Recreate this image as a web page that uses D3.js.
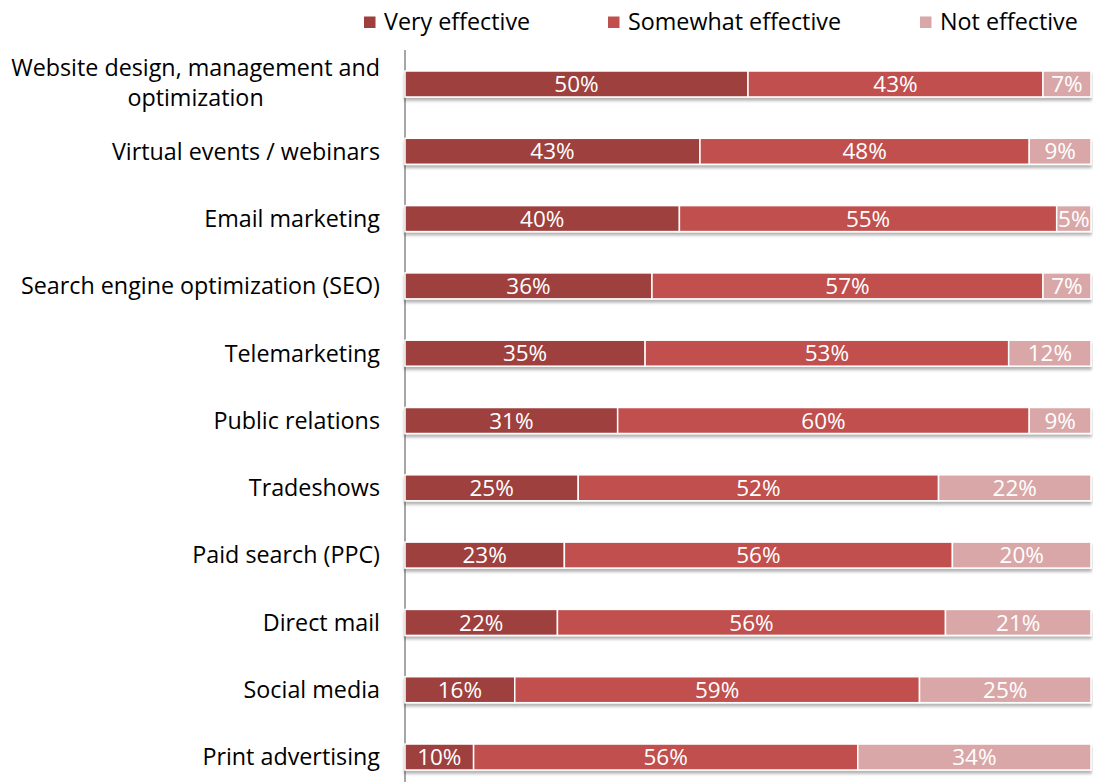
<!DOCTYPE html>
<html>
<head>
<meta charset="utf-8">
<script src="https://cdn.jsdelivr.net/npm/d3@7"></script>
<style>
  body { margin: 0; background: #fff; }
  text { font-family: "Open Sans", Lato, sans-serif; }
</style>
</head>
<body>
<script>
// Chart data
const categories = [
    "Website design, management and optimization",
    "Virtual events / webinars",
    "Email marketing",
    "Search engine optimization (SEO)",
    "Telemarketing",
    "Public relations",
    "Tradeshows",
    "Paid search (PPC)",
    "Direct mail",
    "Social media",
    "Print advertising"
];
const seriesNames = ["Very effective", "Somewhat effective", "Not effective"];
const veryEffective = [50, 43, 40, 36, 35, 31, 25, 23, 22, 16, 10];
const somewhatEffective = [43, 48, 55, 57, 53, 60, 52, 56, 56, 59, 56];
const notEffective = [7, 9, 5, 7, 12, 9, 22, 20, 21, 25, 34];

const colors = ["#9e3f3e", "#c0504d", "#d9a7a7"];

const width = 1093, height = 782;
const x0 = 405, x1 = 1091;
const fontSize = "23.3px";
const valueSize = "22.5px";

const svg = d3.select("body").append("svg")
    .attr("width", width)
    .attr("height", height);

// drop shadow under bars
const defs = svg.append("defs");
const filter = defs.append("filter").attr("id", "shadow")
    .attr("x", "-5%").attr("y", "-20%").attr("width", "110%").attr("height", "160%");
filter.append("feDropShadow")
    .attr("dx", 0).attr("dy", 3).attr("stdDeviation", 1.5)
    .attr("flood-color", "#000").attr("flood-opacity", 0.3);

// build stacked rows (normalised to 100%)
const rows = categories.map((c, i) => {
    const vals = [veryEffective[i], somewhatEffective[i], notEffective[i]];
    const total = d3.sum(vals);
    let acc = 0;
    const segs = vals.map((v, k) => {
        const s = { cat: c, k: k, value: v, start: acc / total, end: (acc + v) / total };
        acc += v;
        return s;
    });
    return { cat: c, segs: segs };
});

const xScale = d3.scaleLinear().domain([0, 1]).range([x0, x1]);
const yScale = d3.scaleBand()
    .domain(categories)
    .range([71, 770])
    .paddingInner(0.614)
    .paddingOuter(0);

// axis line
svg.append("line")
    .attr("x1", x0).attr("x2", x0)
    .attr("y1", 50).attr("y2", height)
    .attr("stroke", "#888").attr("stroke-width", 1.5);

// bars
const rowG = svg.selectAll(".row")
    .data(rows)
    .enter().append("g")
    .attr("class", "row")
    .attr("transform", d => "translate(0," + yScale(d.cat) + ")");

rowG.append("g")
    .attr("filter", "url(#shadow)")
    .selectAll("rect")
    .data(d => d.segs)
    .enter().append("rect")
    .attr("x", d => xScale(d.start))
    .attr("y", 0)
    .attr("width", d => xScale(d.end) - xScale(d.start))
    .attr("height", yScale.bandwidth())
    .attr("fill", d => colors[d.k])
    .attr("stroke", "#fff")
    .attr("stroke-width", 1.5);

rowG.selectAll(".val")
    .data(d => d.segs)
    .enter().append("text")
    .attr("class", "val")
    .attr("x", d => (xScale(d.start) + xScale(d.end)) / 2)
    .attr("y", yScale.bandwidth() / 2)
    .attr("dy", "0.36em")
    .attr("text-anchor", "middle")
    .attr("fill", "#fff")
    .style("font-size", valueSize)
    .text(d => d.value + "%");

// category labels
const labelX = 380;
categories.forEach((c, i) => {
    const cy = yScale(c) + yScale.bandwidth() / 2;
    if (i === 0) {
        const l1 = svg.append("text")
            .attr("x", labelX).attr("y", cy - 16).attr("dy", "0.36em")
            .attr("text-anchor", "end")
            .style("font-size", fontSize).attr("fill", "#000")
            .text("Website design, management and");
        const w = l1.node().getComputedTextLength();
        svg.append("text")
            .attr("x", labelX - w / 2).attr("y", cy + 14).attr("dy", "0.36em")
            .attr("text-anchor", "middle")
            .style("font-size", fontSize).attr("fill", "#000")
            .text("optimization");
    } else {
        svg.append("text")
            .attr("x", labelX).attr("y", cy).attr("dy", "0.36em")
            .attr("text-anchor", "end")
            .style("font-size", fontSize).attr("fill", "#000")
            .text(c);
    }
});

// legend
const legendX = [364, 608, 920];
const legend = svg.selectAll(".legend")
    .data(seriesNames)
    .enter().append("g")
    .attr("class", "legend")
    .attr("transform", (d, i) => "translate(" + legendX[i] + ",22)");

legend.append("rect")
    .attr("x", 0).attr("y", -5.5)
    .attr("width", 11.5).attr("height", 11.5)
    .attr("fill", (d, i) => colors[i]);

legend.append("text")
    .attr("x", 20).attr("y", 0).attr("dy", "0.36em")
    .style("font-size", fontSize).attr("fill", "#000")
    .text(d => d);
</script>
</body>
</html>
